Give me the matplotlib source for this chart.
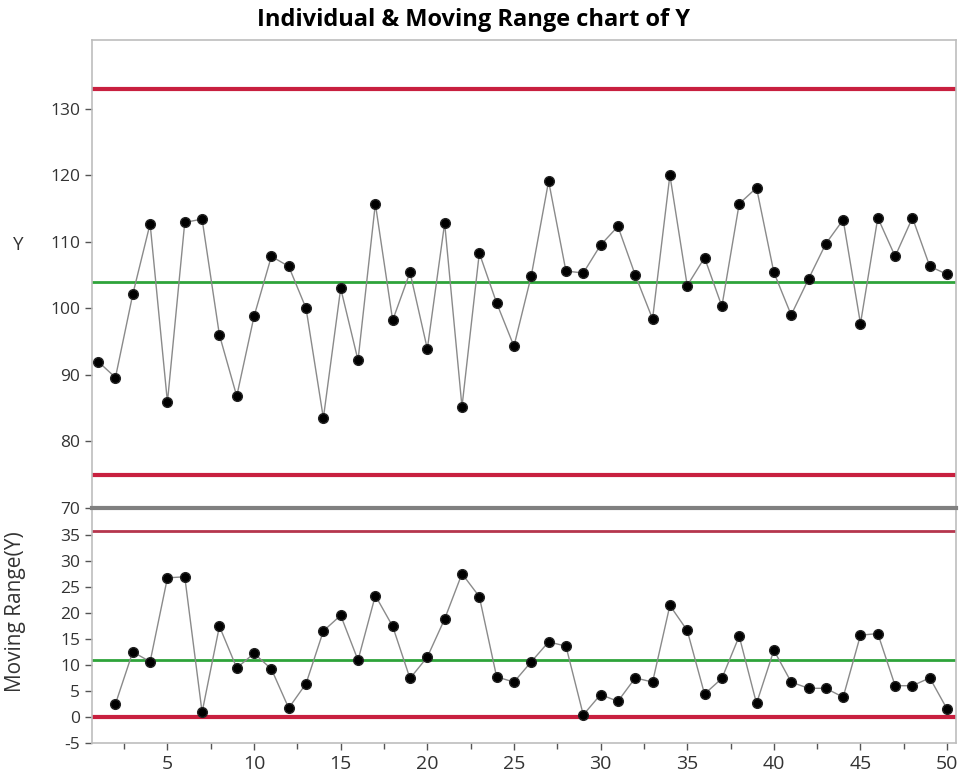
"""Individual & Moving Range chart of Y."""

import matplotlib

matplotlib.use("Agg")
import matplotlib.pyplot as plt
from matplotlib.ticker import MultipleLocator

plt.rcParams["font.family"] = ["Open Sans", "DejaVu Sans"]
plt.rcParams["axes.unicode_minus"] = False

obs = list(range(1, 51))
y_values = [
	92.0, 89.6, 102.1, 112.7, 85.9, 112.9, 113.4, 96.0, 86.8, 98.8,
	107.8, 106.3, 100.0, 83.5, 103.0, 92.2, 115.7, 98.2, 105.4, 93.9,
	112.8, 85.2, 108.3, 100.8, 94.3, 104.9, 119.1, 105.6, 105.3, 109.5,
	112.3, 105.0, 98.4, 120.0, 103.4, 107.6, 100.3, 115.7, 118.1, 105.4,
	99.0, 104.4, 109.7, 113.3, 97.7, 113.6, 107.8, 113.6, 106.3, 105.1,
]
mr_obs = list(range(2, 51))
mr_values = [
	2.5, 12.5, 10.6, 26.7, 26.9, 0.9, 17.4, 9.4, 12.2,
	9.2, 1.7, 6.4, 16.5, 19.5, 10.9, 23.3, 17.4, 7.4, 11.5,
	18.8, 27.5, 23.1, 7.7, 6.7, 10.6, 14.4, 13.6, 0.4, 4.3,
	3.0, 7.5, 6.7, 21.4, 16.6, 4.4, 7.4, 15.5, 2.6, 12.8,
	6.7, 5.5, 5.5, 3.8, 15.7, 16.0, 6.0, 6.0, 7.5, 1.5,
]

# control limits
y_ucl, y_cl, y_lcl = 133.0, 104.0, 75.0
mr_ucl, mr_cl, mr_lcl = 35.7, 10.9, 0.0

red = "#c8203f"
green = "#2ea33a"
spine_grey = "#bdbdbd"

fig = plt.figure(figsize=(9.63, 7.8), dpi=100)
ax_top = fig.add_axes([0.0956, 0.3487, 0.8969, 0.6000])
ax_bot = fig.add_axes([0.0956, 0.0474, 0.8969, 0.3013], sharex=ax_top)
# keep the grey divider (bottom spine of the top panel) above the lower panel
ax_top.set_zorder(2)

for ax in (ax_top, ax_bot):
	for side in ("left", "right", "top", "bottom"):
		ax.spines[side].set_color(spine_grey)
		ax.spines[side].set_linewidth(1.2)
	ax.tick_params(axis="both", colors="#555555", labelcolor="#333333",
		labelsize=12.5, length=5, width=1)
	ax.tick_params(axis="x", which="minor", length=4, width=1, colors="#555555")

# individuals panel
ax_top.axhline(y_ucl, color=red, lw=3, zorder=2)
ax_top.axhline(y_lcl, color=red, lw=3, zorder=2)
ax_top.axhline(y_cl, color=green, lw=2, zorder=2)
ax_top.plot(obs, y_values, color="#8a8a8a", lw=1, zorder=3)
ax_top.plot(obs, y_values, "o", color="black", markersize=7,
	markeredgecolor="#222222", zorder=4)
ax_top.set_ylim(70, 140.3)
ax_top.set_yticks([70, 80, 90, 100, 110, 120, 130])
ax_top.spines["bottom"].set_color("#808080")
ax_top.spines["bottom"].set_linewidth(3.0)
ax_top.tick_params(axis="x", which="both", bottom=False, labelbottom=False)
ax_top.set_ylabel("Y", rotation=0, fontsize=13.5, color="#333333",
	va="center", ha="center")
ax_top.yaxis.set_label_coords(-0.086, 0.562)
fig.text(0.492, 0.974, "Individual & Moving Range chart of Y", fontsize=17,
	fontweight="bold", ha="center", va="center")

# moving range panel
ax_bot.spines["top"].set_visible(False)
ax_bot.axhline(mr_ucl, color="#b5364d", lw=2, zorder=2)
ax_bot.axhline(mr_lcl, color=red, lw=3, zorder=2)
ax_bot.axhline(mr_cl, color=green, lw=2, zorder=2)
ax_bot.plot(mr_obs, mr_values, color="#8a8a8a", lw=1, zorder=3)
ax_bot.plot(mr_obs, mr_values, "o", color="black", markersize=7,
	markeredgecolor="#222222", zorder=4)
ax_bot.set_ylim(-5, 40.1)
ax_bot.set_yticks([-5, 0, 5, 10, 15, 20, 25, 30, 35])
ax_bot.set_xlim(0.65, 50.5)
ax_bot.xaxis.set_major_locator(MultipleLocator(5))
ax_bot.xaxis.set_minor_locator(MultipleLocator(2.5))
ax_bot.tick_params(axis="x", labelsize=14)
ax_bot.set_ylabel("Moving Range(Y)", fontsize=15, color="#333333",
	va="center", ha="center")
ax_bot.yaxis.set_label_coords(-0.089, 0.56)

fig.savefig("out.png", dpi=100)
